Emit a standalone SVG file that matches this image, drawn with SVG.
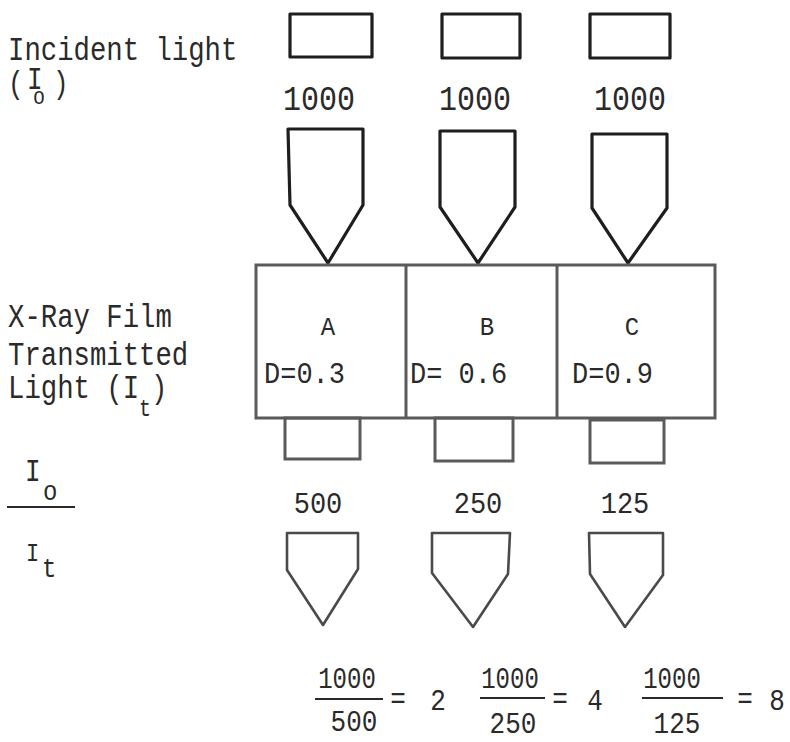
<svg xmlns="http://www.w3.org/2000/svg" width="790" height="742" viewBox="0 0 790 742">
<style>
  .t { font-family: "Liberation Mono", "Courier New", monospace; fill: #2a2a2a; }
  .shape { fill: none; stroke: #1e1e1e; stroke-width: 3.2; stroke-linejoin: round; }
  .film { fill: none; stroke: #5a5a5a; stroke-width: 3; }
  .soft { fill: none; stroke: #4a4a4a; stroke-width: 2.6; stroke-linejoin: round; }
  .bar { stroke: #2a2a2a; stroke-width: 2; }
</style>
<rect width="790" height="742" fill="#fff"/>

<g id="labels">
  <text class="t" font-size="27.3" transform="translate(8 60) scale(1 1.25)">Incident light</text>
  <text class="t" font-size="26" transform="translate(8 93) scale(1 1.2)">(</text>
  <text class="t" font-size="26" transform="translate(27 89) scale(1 1.2)">I</text>
  <text class="t" font-size="20" transform="translate(33 104) scale(1 1.15)">o</text>
  <text class="t" font-size="26" transform="translate(53 93) scale(1 1.2)">)</text>

  <text class="t" font-size="27.3" transform="translate(8 327) scale(1 1.25)">X-Ray Film</text>
  <text class="t" font-size="27.3" transform="translate(8 365) scale(1 1.25)">Transmitted</text>
  <text class="t" font-size="27.3" transform="translate(8 398) scale(1 1.25)">Light (I</text>
  <text class="t" font-size="20" transform="translate(139 416) scale(1 1.15)">t</text>
  <text class="t" font-size="27.3" transform="translate(151 398) scale(1 1.25)">)</text>

  <text class="t" font-size="26" transform="translate(25 481) scale(1 1.2)">I</text>
  <text class="t" font-size="24" transform="translate(43 500) scale(1 1.15)">o</text>
  <line class="bar" x1="7" y1="507" x2="75" y2="507"/>
  <text class="t" font-size="22" transform="translate(26 561) scale(1 1.15)">I</text>
  <text class="t" font-size="24" transform="translate(42 577) scale(1 1.15)">t</text>
</g>

<g id="source-A">
  <rect class="shape" x="290" y="14" width="82" height="43"/>
  <text class="t" font-size="30" text-anchor="middle" transform="translate(319 110) scale(1 1.15)">1000</text>
</g>
<g id="source-B">
  <rect class="shape" x="442" y="14" width="78" height="44"/>
  <text class="t" font-size="30" text-anchor="middle" transform="translate(475 110) scale(1 1.15)">1000</text>
</g>
<g id="source-C">
  <rect class="shape" x="590" y="14" width="80" height="44"/>
  <text class="t" font-size="30" text-anchor="middle" transform="translate(630 110) scale(1 1.15)">1000</text>
</g>

<g id="connectors">
  <polygon id="beam-in-A" class="shape" points="288,129 363,129 363,205 328,263 290,205"/>
  <polygon id="beam-in-B" class="shape" points="440,131 515,131 515,207 478,263 440,207"/>
  <polygon id="beam-in-C" class="shape" points="592,134 667,134 667,208 628,263 592,208"/>
  <polygon id="beam-out-A" class="soft" points="287,533 358,533 358,569 323,625 287,570"/>
  <polygon id="beam-out-B" class="soft" points="432,533 510,533 508,574 473,627 432,573"/>
  <polygon id="beam-out-C" class="soft" points="589,533 663,533 663,575 625,627 590,574"/>
</g>

<g id="film">
  <rect class="film" x="256" y="265" width="459" height="153"/>
  <line class="film" x1="406" y1="265" x2="406" y2="418"/>
  <line class="film" x1="557" y1="265" x2="557" y2="418"/>
</g>
<g id="film-A">
  <text class="t" font-size="24" text-anchor="middle" transform="translate(328 335) scale(1 1.1)">A</text>
  <text class="t" font-size="27" transform="translate(264 383) scale(1 1.1)">D=0.3</text>
  <rect class="film" x="285" y="418" width="75" height="41"/>
</g>
<g id="film-B">
  <text class="t" font-size="24" text-anchor="middle" transform="translate(487 335) scale(1 1.1)">B</text>
  <text class="t" font-size="27" transform="translate(410 383) scale(1 1.1)">D= 0.6</text>
  <rect class="film" x="435" y="418" width="78" height="43"/>
</g>
<g id="film-C">
  <text class="t" font-size="24" text-anchor="middle" transform="translate(632 335) scale(1 1.1)">C</text>
  <text class="t" font-size="27" transform="translate(572 383) scale(1 1.1)">D=0.9</text>
  <rect class="film" x="590" y="420" width="74" height="43"/>
</g>

<g id="transmitted-A">
  <text class="t" font-size="27" text-anchor="middle" transform="translate(318 513) scale(1 1.1)">500</text>
</g>
<g id="transmitted-B">
  <text class="t" font-size="27" text-anchor="middle" transform="translate(478 513) scale(1 1.1)">250</text>
</g>
<g id="transmitted-C">
  <text class="t" font-size="27" text-anchor="middle" transform="translate(625 513) scale(1 1.1)">125</text>
</g>

<g id="ratio-A">
  <text class="t" font-size="24" text-anchor="middle" transform="translate(347 688) scale(1 1.2)">1000</text>
  <line class="bar" x1="315" y1="699" x2="383" y2="699"/>
  <text class="t" font-size="26" text-anchor="middle" transform="translate(354 731) scale(1 1.15)">500</text>
  <text class="t" font-size="26" text-anchor="middle" transform="translate(398 708) scale(1 1.15)">=</text>
  <text class="t" font-size="26" text-anchor="middle" transform="translate(438 710) scale(1 1.15)">2</text>
</g>
<g id="ratio-B">
  <text class="t" font-size="24" text-anchor="middle" transform="translate(510 688) scale(1 1.2)">1000</text>
  <line class="bar" x1="480" y1="698" x2="545" y2="698"/>
  <text class="t" font-size="26" text-anchor="middle" transform="translate(513 733) scale(1 1.15)">250</text>
  <text class="t" font-size="26" text-anchor="middle" transform="translate(560 708) scale(1 1.15)">=</text>
  <text class="t" font-size="26" text-anchor="middle" transform="translate(595 710) scale(1 1.15)">4</text>
</g>
<g id="ratio-C">
  <text class="t" font-size="24" text-anchor="middle" transform="translate(672 688) scale(1 1.2)">1000</text>
  <line class="bar" x1="642" y1="698" x2="723" y2="698"/>
  <text class="t" font-size="26" text-anchor="middle" transform="translate(677 733) scale(1 1.15)">125</text>
  <text class="t" font-size="26" text-anchor="middle" transform="translate(745 708) scale(1 1.15)">=</text>
  <text class="t" font-size="26" text-anchor="middle" transform="translate(777 710) scale(1 1.15)">8</text>
</g>
</svg>
